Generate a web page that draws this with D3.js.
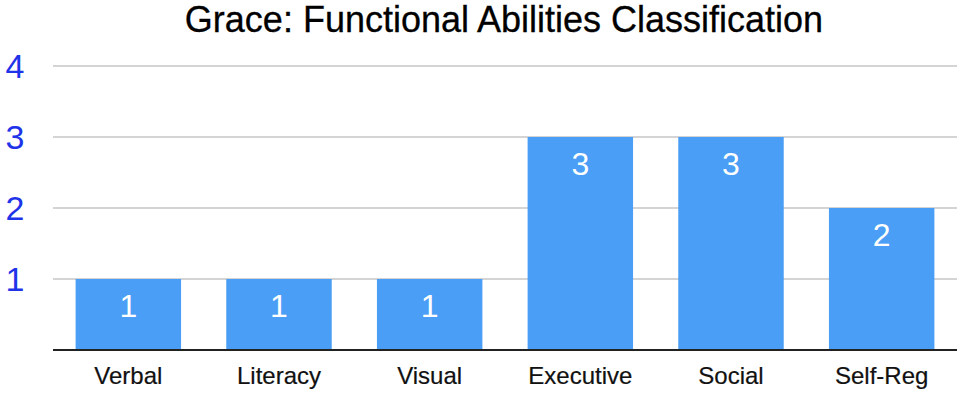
<!DOCTYPE html>
<html>
<head>
<meta charset="utf-8">
<script src="https://cdn.jsdelivr.net/npm/d3@7"></script>
<style>
  body { margin: 0; background: #fff; }
  text { font-family: "Liberation Sans", Arial, sans-serif; }
</style>
</head>
<body>
<script>
const width = 962, height = 395;

const categories = ["Verbal", "Literacy", "Visual", "Executive", "Social", "Self-Reg"];
const values = [1, 1, 1, 3, 3, 2];
const yTicks = [1, 2, 3, 4];
const title = "Grace: Functional Abilities Classification";

const svg = d3.select("body")
    .append("svg")
    .attr("width", width)
    .attr("height", height);

const x = d3.scaleBand()
    .domain(categories)
    .range([53, 957])
    .paddingInner(0.3)
    .paddingOuter(0.15);

const y = d3.scaleLinear()
    .domain([0, 4])
    .range([350, 66]);

// title
svg.append("text")
    .attr("x", 504)
    .attr("y", 32)
    .attr("text-anchor", "middle")
    .attr("font-size", "36px")
    .attr("fill", "#000")
    .attr("stroke", "#000")
    .attr("stroke-width", 0.3)
    .text(title);

// gridlines
svg.selectAll(".grid")
    .data(yTicks)
    .enter()
    .append("line")
    .attr("class", "grid")
    .attr("x1", 53)
    .attr("x2", 957)
    .attr("y1", d => y(d))
    .attr("y2", d => y(d))
    .attr("stroke", "#c6c6c6")
    .attr("stroke-width", 1.5);

// y labels
svg.selectAll(".ylab")
    .data(yTicks)
    .enter()
    .append("text")
    .attr("class", "ylab")
    .attr("x", 15)
    .attr("y", d => y(d))
    .attr("dy", "0.36em")
    .attr("text-anchor", "middle")
    .attr("font-size", "34px")
    .attr("fill", "#1f33e8")
    .text(d => d);

// bars
svg.selectAll(".bar")
    .data(values)
    .enter()
    .append("rect")
    .attr("class", "bar")
    .attr("x", (d, i) => x(categories[i]))
    .attr("y", d => y(d))
    .attr("width", x.bandwidth())
    .attr("height", d => y(0) - y(d))
    .attr("fill", "#4a9ef5");

// value labels
svg.selectAll(".val")
    .data(values)
    .enter()
    .append("text")
    .attr("class", "val")
    .attr("x", (d, i) => x(categories[i]) + x.bandwidth() / 2)
    .attr("y", d => y(d) + 38)
    .attr("text-anchor", "middle")
    .attr("font-size", "32px")
    .attr("fill", "#fff")
    .text(d => d);

// baseline
svg.append("line")
    .attr("x1", 53)
    .attr("x2", 957)
    .attr("y1", y(0))
    .attr("y2", y(0))
    .attr("stroke", "#222")
    .attr("stroke-width", 2);

// category labels
svg.selectAll(".xlab")
    .data(categories)
    .enter()
    .append("text")
    .attr("class", "xlab")
    .attr("x", d => x(d) + x.bandwidth() / 2)
    .attr("y", 384)
    .attr("text-anchor", "middle")
    .attr("font-size", "24px")
    .attr("fill", "#111")
    .attr("stroke", "#111")
    .attr("stroke-width", 0.2)
    .text(d => d);
</script>
</body>
</html>
